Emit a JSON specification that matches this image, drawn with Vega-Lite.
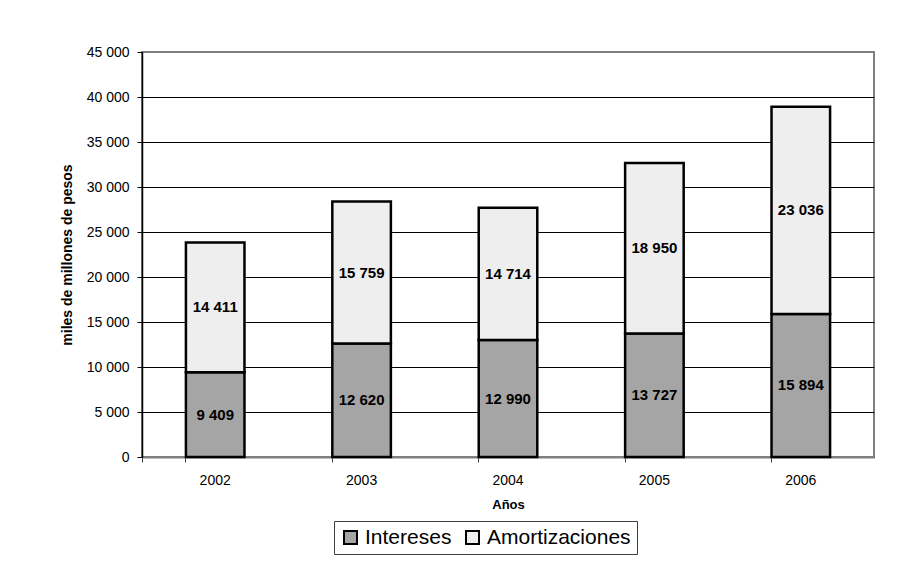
{
  "$schema": "https://vega.github.io/schema/vega-lite/v6.json",
  "width": 732,
  "height": 405,
  "autosize": {"type": "none"},
  "padding": {"left": 142, "top": 52, "right": 24, "bottom": 119},
  "background": "white",
  "config": {
    "font": "Liberation Sans",
    "locale": {"number": {"decimal": ",", "thousands": " ", "grouping": [3], "currency": ["$", ""]}},
    "view": {"stroke": "#808080", "strokeWidth": 2}
  },
  "data": {
    "values": [
      {"anio": "2002", "serie": "Intereses", "valor": 9409, "orden": 1},
      {"anio": "2002", "serie": "Amortizaciones", "valor": 14411, "orden": 2},
      {"anio": "2003", "serie": "Intereses", "valor": 12620, "orden": 1},
      {"anio": "2003", "serie": "Amortizaciones", "valor": 15759, "orden": 2},
      {"anio": "2004", "serie": "Intereses", "valor": 12990, "orden": 1},
      {"anio": "2004", "serie": "Amortizaciones", "valor": 14714, "orden": 2},
      {"anio": "2005", "serie": "Intereses", "valor": 13727, "orden": 1},
      {"anio": "2005", "serie": "Amortizaciones", "valor": 18950, "orden": 2},
      {"anio": "2006", "serie": "Intereses", "valor": 15894, "orden": 1},
      {"anio": "2006", "serie": "Amortizaciones", "valor": 23036, "orden": 2}
    ]
  },
  "transform": [
    {"stack": "valor", "groupby": ["anio"], "sort": [{"field": "orden"}], "as": ["v0", "v1"]},
    {"calculate": "(datum.v0 + datum.v1) / 2", "as": "mid"}
  ],
  "encoding": {
    "x": {
      "field": "anio",
      "type": "ordinal",
      "scale": {"paddingInner": 0.6, "paddingOuter": 0.3},
      "axis": {
        "title": "Años",
        "titleFontSize": 13,
        "titleFontWeight": "bold",
        "titleColor": "black",
        "titlePadding": 11,
        "labelAngle": 0,
        "labelFontSize": 14,
        "labelColor": "black",
        "labelPadding": 11,
        "domainColor": "#808080",
        "domainWidth": 2,
        "tickColor": "#404040",
        "tickSize": 5,
        "bandPosition": 0,
        "tickExtra": true
      }
    }
  },
  "layer": [
    {
      "mark": {"type": "bar", "stroke": "black", "strokeWidth": 2.5},
      "encoding": {
        "y": {
          "field": "v0",
          "type": "quantitative",
          "scale": {"domain": [0, 45000], "nice": false},
          "axis": {
            "title": "miles de millones de pesos",
            "titleFontSize": 14,
            "titleFontWeight": "bold",
            "titleColor": "black",
            "titlePadding": 12,
            "values": [0, 5000, 10000, 15000, 20000, 25000, 30000, 35000, 40000, 45000],
            "format": ",d",
            "labelFontSize": 14,
            "labelColor": "black",
            "labelPadding": 8,
            "domainColor": "black",
            "domainWidth": 1.5,
            "tickColor": "black",
            "tickSize": 5,
            "grid": true,
            "gridColor": {"condition": {"test": "datum.value == 45000", "value": "#808080"}, "value": "black"},
            "gridWidth": 1
          }
        },
        "y2": {"field": "v1"},
        "fill": {
          "field": "serie",
          "type": "nominal",
          "scale": {"domain": ["Intereses", "Amortizaciones"], "range": ["#a5a5a5", "#eeeeee"]},
          "legend": {
            "title": null,
            "orient": "none",
            "legendX": 192,
            "legendY": 469,
            "direction": "horizontal",
            "labelFontSize": 21,
            "labelColor": "black",
            "labelOffset": 4,
            "symbolType": "square",
            "symbolSize": 169,
            "symbolStrokeColor": "black",
            "symbolStrokeWidth": 2,
            "symbolOpacity": 1,
            "strokeColor": "#404040",
            "padding": 6,
            "columnPadding": 10
          }
        },
        "order": {"field": "orden"}
      }
    },
    {
      "mark": {"type": "text", "fontSize": 15, "fontWeight": "bold", "color": "black", "baseline": "middle"},
      "encoding": {
        "y": {"field": "mid", "type": "quantitative"},
        "text": {"field": "valor", "type": "quantitative", "format": ",d"}
      }
    }
  ]
}
